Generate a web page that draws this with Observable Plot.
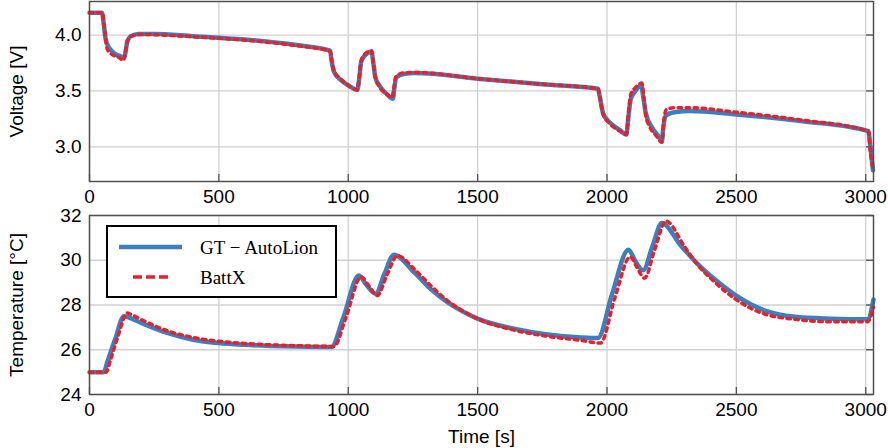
<!DOCTYPE html>
<html><head><meta charset="utf-8">
<script src="https://cdn.jsdelivr.net/npm/d3@7"></script>
<script src="https://cdn.jsdelivr.net/npm/@observablehq/plot@0.6"></script>
<style>
body{margin:0;background:#fff;}
#wrap{position:relative;width:888px;height:448px;font-family:"Liberation Sans",Arial,sans-serif;overflow:hidden;}
#wrap > svg, #wrap > div{position:absolute;left:0;}
</style></head><body><div id="wrap"></div>
<script>
// ---- tick labels / categories ----
const timeTicks = [0, 500, 1000, 1500, 2000, 2500, 3000];
const voltTicks = [3.0, 3.5, 4.0];
const tempTicks = [24, 26, 28, 30, 32];
const seriesNames = ["GT \u2212 AutoLion", "BattX"];

// ---- Voltage, GT - AutoLion ----
const vTimeGT = [0,48,55,62,70,85,100,120,135,140,147,160,190,250,400,600,800,930,935,945,970,1000,1035,1042,1050,1065,1090,1097,1105,1120,1150,1172,1178,1185,1210,1260,1500,1750,1965,1972,1985,2010,2050,2075,2082,2092,2110,2132,2140,2150,2175,2200,2212,2218,2228,2260,2320,2500,2750,3010,3018,3028];
const vGT = [4.2,4.2,4.1,3.97,3.91,3.86,3.83,3.81,3.80,3.86,3.95,3.99,4.01,4.01,3.99,3.96,3.91,3.86,3.78,3.67,3.60,3.55,3.51,3.60,3.76,3.82,3.85,3.75,3.62,3.55,3.47,3.43,3.52,3.62,3.65,3.66,3.61,3.56,3.52,3.45,3.30,3.22,3.15,3.11,3.25,3.43,3.50,3.55,3.45,3.30,3.17,3.09,3.05,3.18,3.28,3.31,3.32,3.29,3.23,3.14,3.00,2.79];

// ---- Voltage, BattX ----
const vTimeBX = [0,50,58,68,80,100,120,130,137,145,160,200,400,600,800,930,937,947,970,1000,1035,1042,1050,1065,1090,1097,1105,1120,1150,1170,1176,1183,1210,1260,1500,1750,1965,1972,1985,2010,2050,2075,2082,2092,2110,2135,2142,2150,2165,2190,2212,2218,2228,2260,2320,2500,2750,3010,3018,3028];
const vBX = [4.2,4.2,4.05,3.88,3.84,3.81,3.79,3.77,3.82,3.93,3.99,4.005,3.985,3.955,3.905,3.855,3.76,3.67,3.61,3.55,3.51,3.62,3.77,3.83,3.86,3.75,3.62,3.54,3.47,3.44,3.52,3.62,3.66,3.665,3.61,3.56,3.52,3.45,3.29,3.21,3.14,3.11,3.28,3.47,3.53,3.57,3.45,3.28,3.18,3.10,3.04,3.20,3.33,3.35,3.35,3.31,3.24,3.14,2.95,2.80];

// ---- Temperature, GT - AutoLion ----
const tTimeGT = [0,55,70,100,133,150,200,300,400,500,600,700,800,935,980,1041,1070,1106,1140,1177,1254,1320,1383,1447,1500,1641,1770,1899,1965,2020,2083,2110,2140,2175,2212,2285,2350,2414,2498,2608,2736,2865,3007,3030];
const tGT = [25.0,25.0,25.5,26.5,27.5,27.45,27.2,26.75,26.45,26.3,26.22,26.17,26.14,26.12,27.4,29.32,28.9,28.5,29.4,30.25,29.47,28.7,28.13,27.69,27.39,26.94,26.68,26.55,26.52,28.5,30.47,29.95,29.55,30.6,31.66,30.66,29.84,29.17,28.43,27.76,27.46,27.39,27.36,28.25];

// ---- Temperature, BattX ----
const tTimeBX = [0,65,80,110,146,160,200,300,400,500,600,700,800,945,990,1050,1080,1112,1150,1190,1260,1320,1383,1447,1500,1641,1770,1899,1975,2030,2090,2115,2145,2185,2228,2300,2350,2414,2498,2608,2736,2865,3007,3030];
const tBX = [25.0,25.0,25.5,26.6,27.64,27.58,27.35,26.85,26.55,26.38,26.28,26.22,26.18,26.15,27.4,29.25,28.85,28.42,29.35,30.2,29.55,28.85,28.2,27.7,27.38,26.88,26.6,26.42,26.3,28.3,30.15,29.7,29.2,30.5,31.75,30.6,29.8,29.05,28.25,27.6,27.35,27.25,27.25,27.9];

const BLUE = "#3b7fc0";
const RED = "#e8202a";
const toRows = (ts, vs) => ts.map((t, i) => ({t, v: vs[i]}));

const W = 888, ML = 89, MR = 15;
const innerW = W - ML - MR;
const FS = 19;
const wrap = document.getElementById("wrap");
const baseStyle = {fontSize: FS + "px", fontFamily: "'Liberation Sans', Arial, sans-serif", color: "#000", background: "transparent", overflow: "visible"};
const gridStyle = {stroke: "#d0d0d0", strokeOpacity: 1, strokeWidth: 1.3};

function panel({height, mt, mb, yDomain, yTicks, yFmt, yLabel, gt, bx, xLabel}) {
  const innerH = height - mt - mb;
  return Plot.plot({
    width: W, height, marginTop: mt, marginBottom: mb, marginLeft: ML, marginRight: MR,
    style: baseStyle,
    x: {domain: [0, 3030]},
    y: {domain: yDomain},
    marks: [
      Plot.gridX(timeTicks, gridStyle),
      Plot.gridY(yTicks, gridStyle),
      Plot.tickX(timeTicks, {x: d => d, insetTop: innerH - 7, stroke: "#505050", strokeWidth: 1.3}),
      Plot.tickY(yTicks, {y: d => d, insetLeft: innerW - 7, stroke: "#505050", strokeWidth: 1.3}),
      Plot.line(gt, {x: "t", y: "v", stroke: BLUE, strokeWidth: 4.5, curve: "monotone-x"}),
      Plot.line(bx, {x: "t", y: "v", stroke: RED, strokeWidth: 3.5, strokeDasharray: "3.5,4.5", curve: "monotone-x"}),
      Plot.axisX(timeTicks, {tickSize: 0, tickPadding: 8, tickFormat: d => String(d),
        label: xLabel, labelAnchor: "center", labelArrow: "none", labelOffset: 48, fontSize: FS}),
      Plot.axisY(yTicks, {tickSize: 0, tickPadding: 8, tickFormat: yFmt,
        label: yLabel, labelAnchor: "center", labelArrow: "none", labelOffset: 80, fontSize: FS}),
      Plot.frame({stroke: "#505050", strokeWidth: 1.5})
    ]
  });
}

const p1 = panel({height: 212, mt: 1, mb: 31, yDomain: [2.69, 4.3], yTicks: voltTicks,
  yFmt: d3.format(".1f"), yLabel: "Voltage [V]", gt: toRows(vTimeGT, vGT), bx: toRows(vTimeBX, vBX), xLabel: null});
p1.style.top = "0px";
wrap.appendChild(p1);

const p2 = panel({height: 248, mt: 15, mb: 54, yDomain: [24, 32], yTicks: tempTicks,
  yFmt: d => String(d), yLabel: "Temperature [\u00B0C]", gt: toRows(tTimeGT, tGT), bx: toRows(tTimeBX, tBX), xLabel: "Time [s]"});
p2.style.top = "200px";
wrap.appendChild(p2);

// ---- legend ----
const leg = d3.create("svg").attr("width", 231).attr("height", 73)
  .style("position", "absolute").style("left", "106px").style("top", "225px");
leg.append("rect").attr("x", 1).attr("y", 1).attr("width", 229).attr("height", 71)
  .attr("fill", "#fff").attr("stroke", "#000").attr("stroke-width", 2);
const styles = [
  {stroke: BLUE, w: 4.5, dash: null, x1: 13, x2: 76},
  {stroke: RED, w: 3.5, dash: "9,4", x1: 27, x2: 62}
];
seriesNames.forEach((name, i) => {
  const y = 22 + i * 30;
  const s = styles[i];
  leg.append("line").attr("x1", s.x1).attr("x2", s.x2).attr("y1", y).attr("y2", y)
    .attr("stroke", s.stroke).attr("stroke-width", s.w).attr("stroke-dasharray", s.dash);
  leg.append("text").attr("x", 94).attr("y", y).attr("dy", "0.35em")
    .attr("font-family", "'Liberation Serif', 'Times New Roman', serif").attr("font-size", 19)
    .attr("fill", "#000").text(name);
});
wrap.appendChild(leg.node());
</script></body></html>
